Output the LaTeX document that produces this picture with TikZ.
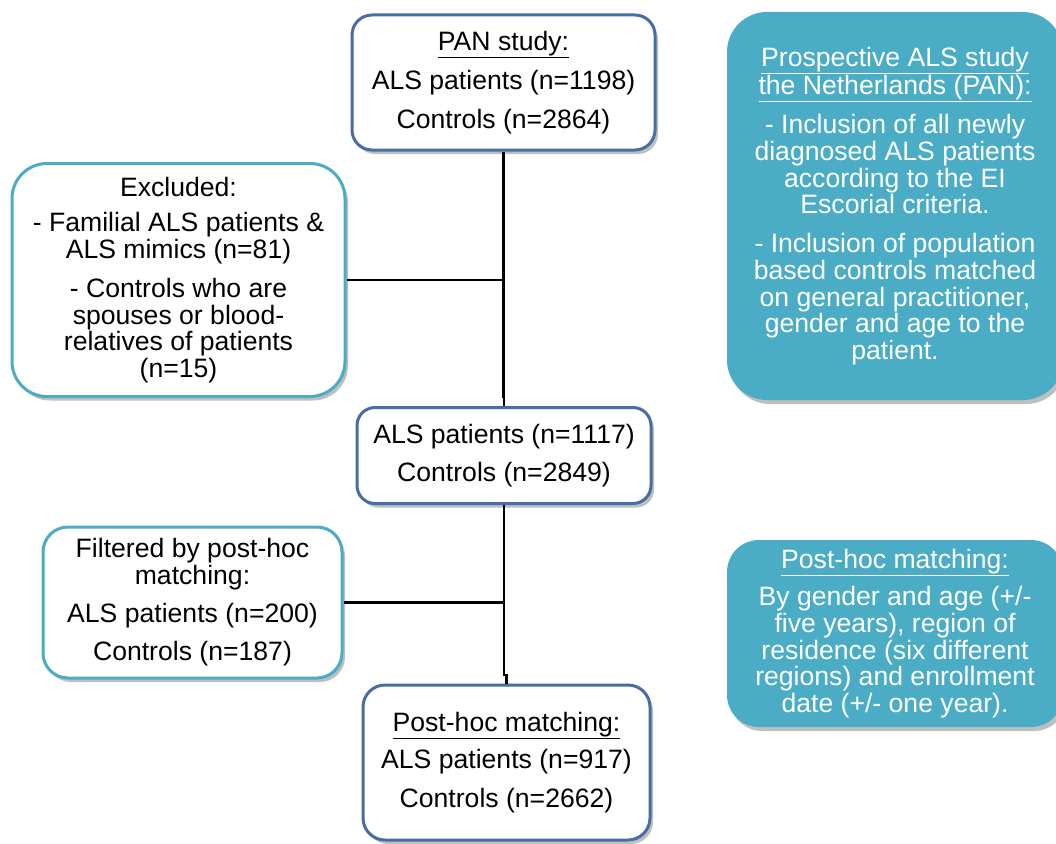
\documentclass[tikz,border=0pt]{standalone}
\usepackage{fontspec}
\setmainfont{Liberation Sans}
\usepackage{tikz}
\usetikzlibrary{shapes,shadows}
\definecolor{frameblue}{RGB}{70,110,165}
\definecolor{framecyan}{RGB}{75,172,198}
\tikzstyle{edge} = [draw,line width=2.2pt,-]

\begin{document}
\begin{tikzpicture}[x=1pt,y=-1pt,font=\fontsize{26.6}{26.7}\selectfont,
  main box/.style={rectangle,draw=frameblue,line width=3pt,fill=white,align=center,inner sep=0pt,
    drop shadow={shadow xshift=3pt,shadow yshift=-4pt,opacity=0.25,fill=black}},
  side box/.style={main box,draw=framecyan},
  note box/.style={main box,draw=none,fill=framecyan,text=white}]

  \useasboundingbox (0,0) rectangle (1056,843);

  \node[main box,minimum width=303,minimum height=135,rounded corners=20] (1) at (503.5,82.5)
    {\underline{PAN study:}\\[12pt] ALS patients (n=1198)\\[12pt] Controls (n=2864)};
  \node[side box,minimum width=333,minimum height=233,rounded corners=35] (2) at (178.5,280)
    {Excluded:\\[9pt] - Familial ALS patients \&\\ ALS mimics (n=81)\\[12pt]
     - Controls who are\\ spouses or blood-\\ relatives of patients\\ (n=15)};
  \node[main box,minimum width=294,minimum height=96,rounded corners=18] (3) at (504,455.5)
    {ALS patients (n=1117)\\[12pt] Controls (n=2849)};
  \node[side box,minimum width=299,minimum height=151,rounded corners=25] (4) at (192.5,602.5)
    {Filtered by post-hoc\\ matching:\\[11pt] ALS patients (n=200)\\[12pt] Controls (n=187)};
  \node[main box,minimum width=287,minimum height=155,rounded corners=22] (5) at (506.5,762.5)
    {\underline{Post-hoc matching:}\\[10pt] ALS patients (n=917)\\[12pt] Controls (n=2662)};
  \node[note box,minimum width=336,minimum height=388,rounded corners=40] (6) at (895,206)
    {\underline{Prospective ALS study}\\ \underline{the Netherlands (PAN):}\\[12pt]
     - Inclusion of all newly\\ diagnosed ALS patients\\ according to the EI\\ Escorial criteria.\\[12pt]
     - Inclusion of population\\ based controls matched\\ on general practitioner,\\ gender and age to the\\ patient.};
  \node[note box,minimum width=336,minimum height=187,rounded corners=32] (7) at (895,633.5)
    {\underline{Post-hoc matching:}\\[10pt] By gender and age (+/-\\ five years), region of\\
     residence (six different\\ regions) and enrollment\\ date (+/- one year).};

  \path[edge] (1.south) -- ++(0,245) -| (3.north);
  \path[edge] (2.east) -- (2.east -| 1.south);
  \path[edge] (3.south) -- ++(0,170) -| (5.north);
  \path[edge] (4.east) -- (4.east -| 3.south);

\end{tikzpicture}
\end{document}
